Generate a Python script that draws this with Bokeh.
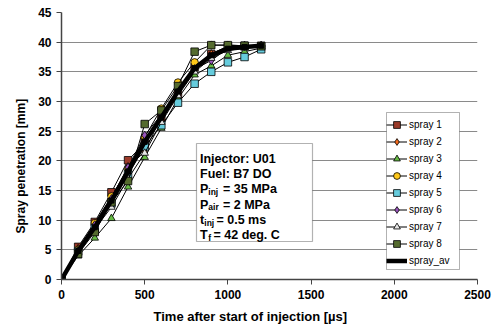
from bokeh.plotting import figure
from bokeh.models import Legend, LegendItem, BoxAnnotation, Label, FixedTicker, Range1d, Title
from bokeh.embed import file_html
from bokeh.resources import INLINE

time_us = [0, 100, 200, 300, 400, 500, 600, 700, 800, 900, 1000, 1100, 1200]
spray1 = [0, 5.5, 9.7, 14.7, 20.1, 23.0, 27.3, 31.3, 35.8, 38.0, 39.3, 39.4, 39.4]
spray2 = [0, 5.2, 9.4, 13.8, 19.0, 21.5, 27.5, 32.0, 35.8, 38.0, 39.3, 39.4, 39.4]
spray3 = [0, 4.0, 7.0, 10.3, 15.6, 20.6, 25.5, 30.5, 34.5, 36.0, 37.8, 38.4, 39.0]
spray4 = [0, 5.0, 9.5, 14.0, 18.5, 24.0, 28.8, 33.2, 36.6, 39.5, 39.5, 39.4, 39.4]
spray5 = [0, 4.7, 8.7, 12.8, 17.7, 22.4, 26.0, 29.8, 33.0, 35.0, 36.6, 37.5, 38.8]
spray6 = [0, 4.8, 9.2, 13.6, 18.9, 24.3, 27.8, 32.0, 35.5, 36.9, 39.0, 39.3, 39.4]
spray7 = [0, 4.5, 8.5, 12.2, 17.0, 21.3, 26.5, 31.0, 35.0, 37.3, 38.6, 39.0, 39.3]
spray8 = [0, 4.3, 8.0, 13.0, 16.6, 26.2, 28.5, 32.6, 38.4, 39.5, 39.5, 39.4, 39.3]
spray_av = [0, 4.8, 8.8, 13.3, 18.2, 23.2, 27.3, 31.7, 35.6, 37.8, 38.9, 39.2, 39.4]

series_names = ["spray 1", "spray 2", "spray 3", "spray 4", "spray 5", "spray 6", "spray 7", "spray 8"]
series_values = [spray1, spray2, spray3, spray4, spray5, spray6, spray7, spray8]
markers = ["square", "diamond", "triangle", "circle", "square", "diamond", "triangle", "square"]
fills = ["#9B3B2A", "#F46B1E", "#66BB44", "#FFC819", "#66CCDD", "#9955BB", "#E6E6E6", "#556B2F"]
sizes = [7.5, 8.5, 7.5, 7.5, 7.5, 8.5, 7.5, 7.5]

x_ticks = [0, 500, 1000, 1500, 2000, 2500]
y_ticks = [0, 5, 10, 15, 20, 25, 30, 35, 40, 45]

FONT = "Liberation Sans"

W, H = 492, 331
L, R, T, B = 61, 15, 12, 52
XMAX, YMAX = 2500, 45
fw, fh = W - L - R, H - T - B

def dx(px):
    return (px - L) / fw * XMAX

def dy(py):
    return (T + fh - py) / fh * YMAX

p = figure(width=W, height=H, output_backend="svg", toolbar_location=None,
           x_range=Range1d(0, XMAX), y_range=Range1d(0, YMAX),
           min_border_left=L, min_border_right=R, min_border_top=T, min_border_bottom=B)
p.outline_line_color = None
p.background_fill_color = "white"
p.border_fill_color = "white"

p.xgrid.grid_line_color = None
p.ygrid.grid_line_color = "#8a8a8a"
p.ygrid.grid_line_width = 1

p.xaxis.ticker = FixedTicker(ticks=x_ticks)
p.yaxis.ticker = FixedTicker(ticks=y_ticks)
for ax in (p.xaxis, p.yaxis):
    ax.axis_line_color = "#444444"
    ax.axis_line_width = 1.5
    ax.major_tick_line_color = "#444444"
    ax.major_tick_in = 0
    ax.major_tick_out = 5
    ax.minor_tick_line_color = None
    ax.major_label_text_font = FONT
    ax.major_label_text_font_style = "bold"
    ax.major_label_text_font_size = "12px"
    ax.major_label_text_color = "black"
    ax.major_label_standoff = 5

items = []
for name, vals, mk, fc, sz in zip(series_names, series_values, markers, fills, sizes):
    ln = p.line(time_us, vals, line_color="black", line_width=1)
    sc = p.scatter(time_us, vals, marker=mk, size=sz, fill_color=fc, line_color="black", line_width=0.8)
    items.append(LegendItem(label=name, renderers=[ln, sc]))

ln_av = p.line(time_us, spray_av, line_color="black", line_width=4.5)
sc_av = p.scatter(time_us, spray_av, marker="square", size=5, fill_color="black", line_color="black")
items.append(LegendItem(label="spray_av", renderers=[ln_av]))

# legend frame drawn as a box so its width matches
legend_box = BoxAnnotation(left=dx(386), right=dx(459), top=dy(112), bottom=dy(269),
                           fill_color="white", fill_alpha=1, line_color="black", line_width=1)
p.add_layout(legend_box)

legend = Legend(items=items, location=(386 - L, T + fh - 269))
legend.border_line_color = None
legend.background_fill_alpha = 0
legend.label_text_font = FONT
legend.label_text_font_size = "10px"
legend.label_text_color = "black"
legend.glyph_width = 21
legend.glyph_height = 17
legend.label_height = 17
legend.label_width = 10
legend.label_standoff = 2
legend.spacing = 0
legend.padding = 2
legend.margin = 0
p.add_layout(legend, "center")

# axis titles as side titles
xt = Title(text="Time after start of injection [µs]", align="left", offset=153 - L,
           text_font=FONT, text_font_style="bold", text_font_size="13px", text_color="black",
           standoff=10)
p.add_layout(xt, "below")
yt = Title(text="Spray penetration [mm]", align="left", offset=(T + fh) - 233,
           text_font=FONT, text_font_style="bold", text_font_size="12px", text_color="black",
           standoff=16)
p.add_layout(yt, "left")

# annotation box
box = BoxAnnotation(left=dx(196), right=dx(312), top=dy(143), bottom=dy(241),
                    fill_color="white", fill_alpha=1, line_color="black", line_width=1.2)
p.add_layout(box)

main_size = "12.5px"
sub_size = "8.5px"

def add_text(px, py, txt, size=main_size):
    p.add_layout(Label(x=dx(px), y=dy(py), text=txt, text_font=FONT, text_font_style="bold",
                       text_font_size=size, text_color="black", text_baseline="alphabetic"))

add_text(199.5, 158.3, "Injector: U01")
add_text(199.5, 173.6, "Fuel: B7 DO")
add_text(199.5, 188.9, "P")
add_text(207.8, 191.5, "inj", sub_size)
add_text(222.5, 188.9, "= 35 MPa")
add_text(199.5, 204.2, "P")
add_text(207.8, 206.8, "air", sub_size)
add_text(222.5, 204.2, "= 2 MPa")
add_text(199.5, 219.5, "t")
add_text(203.8, 222.1, "inj", sub_size)
add_text(216.0, 219.5, "= 0.5 ms")
add_text(199.5, 234.8, "T")
add_text(207.8, 237.4, "f", sub_size)
add_text(213.0, 234.8, "= 42 deg. C")

open("out.html", "w").write(file_html(p, INLINE))
